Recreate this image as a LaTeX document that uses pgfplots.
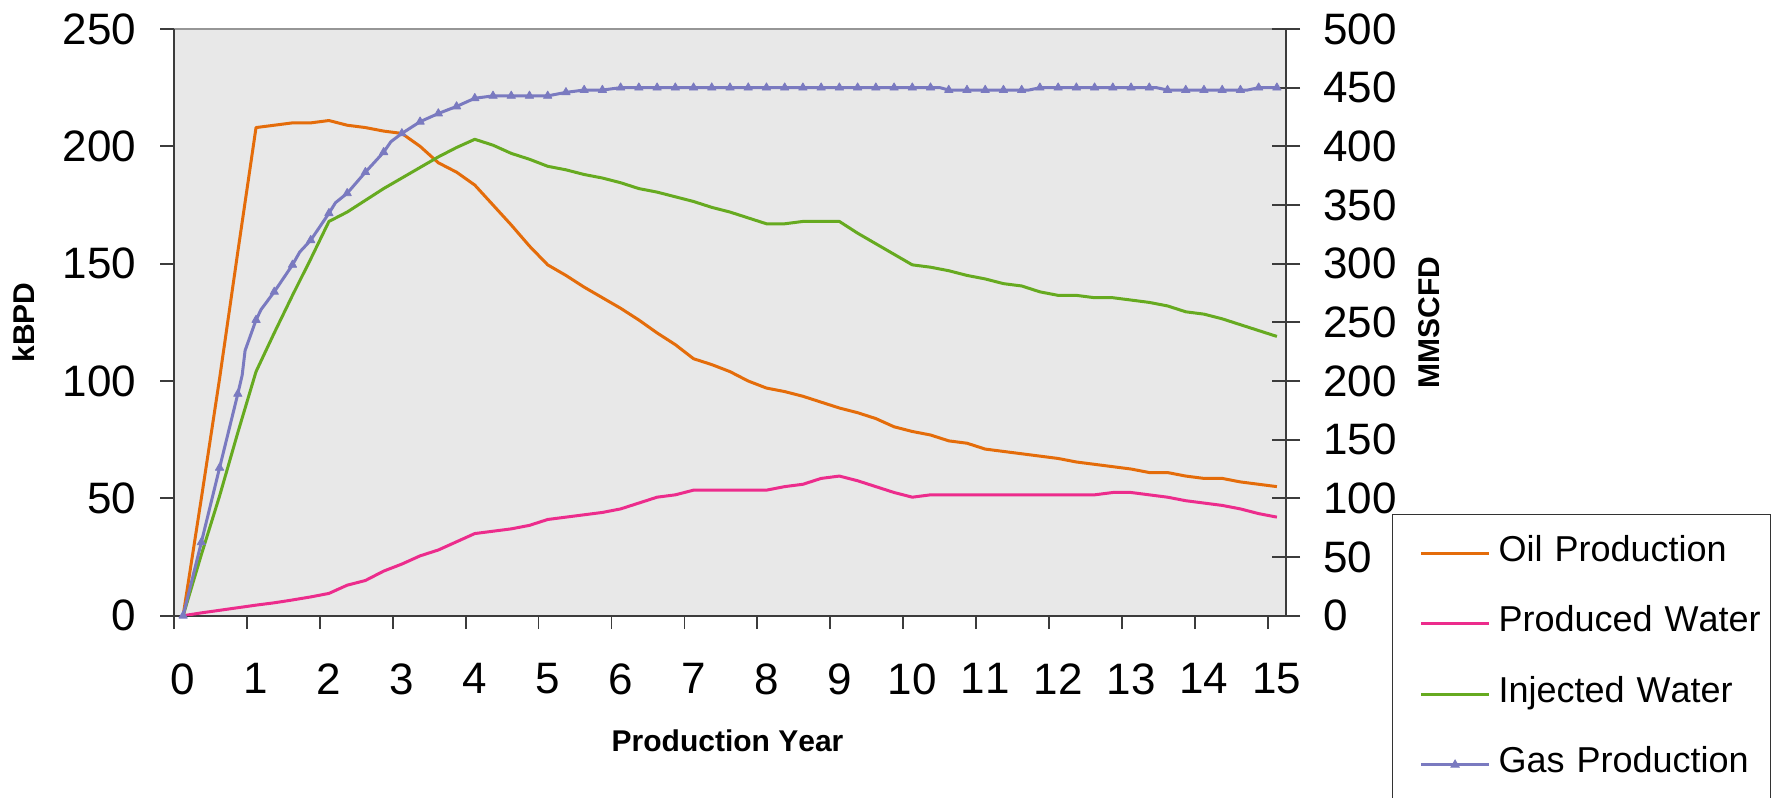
\documentclass[border=0pt]{standalone}
\usepackage{pgfplots}
\usepackage{pgfplotstable}
\pgfplotsset{compat=1.18}
\usepackage{fontspec}
\setmainfont[Kerning=Off]{Liberation Sans}

\definecolor{oilc}{RGB}{228,108,10}
\definecolor{pwc}{RGB}{236,44,140}
\definecolor{iwc}{RGB}{102,170,32}
\definecolor{gasc}{RGB}{122,122,192}
\definecolor{plotbg}{RGB}{232,232,232}
\definecolor{framec}{RGB}{150,150,150}
\definecolor{axisc}{RGB}{60,60,60}

% quarterly profile: oil, produced water, injected water (kBPD)
\pgfplotstableread{
year oil pw iw
0 0 0 0
0.25 50 1.2 26
0.5 101 2.3 51
0.75 155 3.4 78
1.0 208 4.5 104
1.25 209 5.5 120.5
1.5 210 6.7 136.5
1.75 210 8 152
2.0 211 9.5 168
2.25 209 13 172
2.5 208 15 177
2.75 206.5 19 182
3.0 205.5 22 186.5
3.25 200 25.5 191
3.5 193 28 195.5
3.75 189 31.5 199.5
4.0 183.5 35 203
4.25 175 36 200.5
4.5 166.5 37 197
4.75 157.5 38.5 194.5
5.0 149.5 41 191.5
5.25 145 42 190
5.5 140 43 188
5.75 135.5 44 186.5
6.0 131 45.5 184.5
6.25 126 48 182
6.5 120.5 50.5 180.5
6.75 115.5 51.5 178.5
7.0 109.5 53.5 176.5
7.25 107 53.5 174
7.5 104 53.5 172
7.75 100 53.5 169.5
8.0 97 53.5 167
8.25 95.5 55 167
8.5 93.5 56 168
8.75 91 58.5 168
9.0 88.5 59.5 168
9.25 86.5 57.5 163
9.5 84 55 158.5
9.75 80.5 52.5 154
10.0 78.5 50.5 149.5
10.25 77 51.5 148.5
10.5 74.5 51.5 147
10.75 73.5 51.5 145
11.0 71 51.5 143.5
11.25 70 51.5 141.5
11.5 69 51.5 140.5
11.75 68 51.5 138
12.0 67 51.5 136.5
12.25 65.5 51.5 136.5
12.5 64.5 51.5 135.5
12.75 63.5 52.5 135.5
13.0 62.5 52.5 134.5
13.25 61 51.5 133.5
13.5 61 50.5 132
13.75 59.5 49 129.5
14.0 58.5 48 128.5
14.25 58.5 47 126.5
14.5 57 45.5 124
14.75 56 43.5 121.5
15.0 55 42 119
}\liquids

% gas production (MMSCFD), quarterly values plus intermediate line vertices
\pgfplotstableread{
year gas
0 0
0.25 62.5
0.5 126
0.75 189
0.81 205
0.85 226
1.0 252
1.07 261
1.25 276
1.5 299
1.6 310
1.75 320
2.0 343
2.09 352
2.25 360
2.5 378
2.75 395
2.85 404
3.0 411
3.25 421
3.5 428
3.75 434
4.0 441
4.25 443
4.5 443
4.75 443
5.0 443
5.25 446
5.5 448
5.75 448
6.0 450
6.25 450
6.5 450
6.75 450
7.0 450
7.25 450
7.5 450
7.75 450
8.0 450
8.25 450
8.5 450
8.75 450
9.0 450
9.25 450
9.5 450
9.75 450
10.0 450
10.25 450
10.38 450
10.5 448
10.75 448
11.0 448
11.25 448
11.5 448
11.6 448
11.75 450
12.0 450
12.25 450
12.5 450
12.75 450
13.0 450
13.25 450
13.35 450
13.5 448
13.75 448
14.0 448
14.25 448
14.5 448
14.6 448
14.75 450
15.0 450
}\gas

\begin{document}
\begin{tikzpicture}
\pgfplotsset{
  chartbase/.style={
    at={(0pt,0pt)}, anchor=south west,
    scale only axis, width=556pt, height=293.35pt,
    xmin=-0.125, xmax=15.125,
    /pgf/number format/assume math mode=true,
    tick label style={font=\fontsize{22}{26}\selectfont, inner sep=0pt},
    label style={font=\bfseries\fontsize{15}{18}\selectfont},
    axis line style={axisc, line width=1pt},
    major tick style={axisc, line width=0.9pt},
    minor tick num=0,
    clip=true,
  },
  series/.style={line width=1.5pt, line join=round, mark=none},
  gasmark/.style={mark=triangle*, mark size=2.4pt,
    mark options={solid, fill=gasc, draw=gasc, line width=0.4pt}},
  legend image code/.code={%
    \path (0pt,0pt);
    \draw[mark repeat=2, mark phase=2, #1] plot coordinates {(11.5pt,0pt) (28.5pt,0pt) (45.5pt,0pt)};
  },
}
% left axis: liquids in kBPD
\begin{axis}[chartbase,
  axis background/.style={fill=plotbg, draw=framec, line width=1pt},
  axis x line*=bottom, axis y line*=left,
  tick align=outside, major tick length=6.75pt,
  ymin=0, ymax=250, ytick={0,50,100,150,200,250},
  xtick={-0.125,0.875,1.875,2.875,3.875,4.875,5.875,6.875,7.875,8.875,9.875,10.875,11.875,12.875,13.875,14.875},
  xticklabels={0,1,2,3,4,5,6,7,8,9,10,11,12,13,14,15},
  xticklabel style={anchor=north, xshift=4.56pt},
  xticklabel shift=17pt,
  yticklabel style={anchor=east},
  yticklabel shift=11.9pt,
  xlabel={Production Year},
  xlabel style={at={(axis description cs:0.4978,-0.2136)}, anchor=center},
  ylabel={kBPD},
  ylabel style={at={(axis description cs:-0.1349,0.5)}, anchor=center},
]
\addplot[series, oilc] table[x=year, y=oil] {\liquids};
\addplot[series, pwc] table[x=year, y=pw] {\liquids};
\addplot[series, iwc] table[x=year, y=iw] {\liquids};
\end{axis}
% right axis: gas in MMSCFD
\begin{axis}[chartbase,
  hide x axis,
  axis y line*=right,
  tick align=center, major tick length=14pt,
  ymin=0, ymax=500, ytick={0,50,100,150,200,250,300,350,400,450,500},
  yticklabel style={anchor=west},
  yticklabel shift=11.5pt,
  ylabel={MMSCFD},
  ylabel style={at={(axis description cs:1.129,0.5)}, anchor=center},
  legend style={
    at={(axis description cs:1.0953,0.1733)}, anchor=north west,
    draw=black!80, line width=0.6pt, fill=white,
    inner xsep=2pt, inner ysep=10.3pt,
    row sep=17.25pt, column sep=4pt,
    font=\fontsize{18}{21}\selectfont,
    nodes={inner sep=0pt, text width=134pt, text height=13pt, text depth=5pt, align=left},
  },
  legend cell align=left,
]
\addplot[line width=1.5pt, line join=round, gasc, gasmark,
  mark indices={1,2,3,4,7,9,10,12,13,15,16,17,19,20,21,22,23,24,25,26,27,28,29,30,31,32,33,34,35,36,37,38,39,40,41,42,43,44,45,46,47,48,50,51,52,53,54,56,57,58,59,60,61,62,64,65,66,67,68,70,71},
  forget plot] table[x=year, y=gas] {\gas};
\addlegendimage{series, oilc}
\addlegendentry{Oil Production}
\addlegendimage{series, pwc}
\addlegendentry{Produced Water}
\addlegendimage{series, iwc}
\addlegendentry{Injected Water}
\addlegendimage{line width=1.5pt, gasc, gasmark}
\addlegendentry{Gas Production}
\end{axis}
\pgfresetboundingbox
\path[use as bounding box] (-87pt,-91.15pt) rectangle (802.5pt,307.85pt);
\end{tikzpicture}
\end{document}
